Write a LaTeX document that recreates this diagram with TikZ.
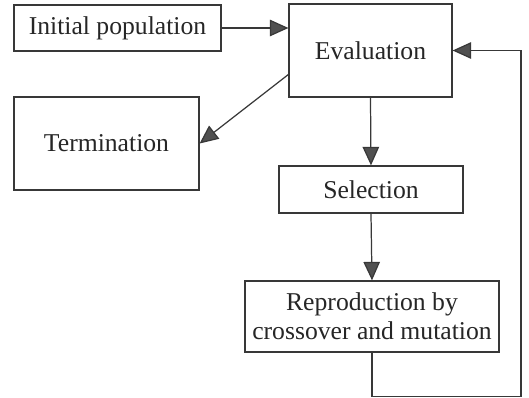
\documentclass[tikz,border=0pt]{standalone}
\usepackage{fontspec}
\setmainfont{Liberation Serif}
\usetikzlibrary{arrows.meta, calc}
\definecolor{inkgray}{HTML}{383838}
\definecolor{headgray}{HTML}{505050}
\definecolor{txtgray}{HTML}{262626}

\begin{document}
\begin{tikzpicture}[>={Triangle[length=3.7mm, width=3.3mm, fill=headgray]}, line width=0.7pt,
  box/.style={draw=inkgray, fill=white, inner sep=0pt, align=center, text=txtgray,
    font=\fontsize{14.6}{16.5}\selectfont},
  flow/.style={->, draw=inkgray, line width=0.7pt}]

% Canvas
\useasboundingbox (0,0) rectangle (10.58,7.96);

% Boxes
\node[box, minimum width=4.14cm, minimum height=0.92cm] (init) at (2.35,7.40) {Initial population};
\node[box, minimum width=3.26cm, minimum height=1.86cm] (eval) at (7.41,6.95) {Evaluation};
\node[box, minimum width=3.70cm, minimum height=1.86cm] (term) at (2.13,5.09) {Termination};
\node[box, minimum width=3.68cm, minimum height=0.94cm] (sel) at (7.42,4.17) {Selection};
\node[box, minimum width=5.08cm, minimum height=1.42cm] (repro) at (7.44,1.63)
  {Reproduction by\\crossover and mutation};

% Loop corner
\coordinate (loop) at (10.42,0.03);

% Arrows
\draw[flow] (init.east) -- (init.east -| eval.west);
\draw[flow] ([yshift=-0.48cm]eval.west) -- (term.east);
\draw[flow] (eval.south) -- (sel.north);
\draw[flow] (sel.south) -- (repro.north);

% Feedback to evaluation
\draw[flow] (repro.south) |- (loop) |- (eval.east);

\end{tikzpicture}
\end{document}
